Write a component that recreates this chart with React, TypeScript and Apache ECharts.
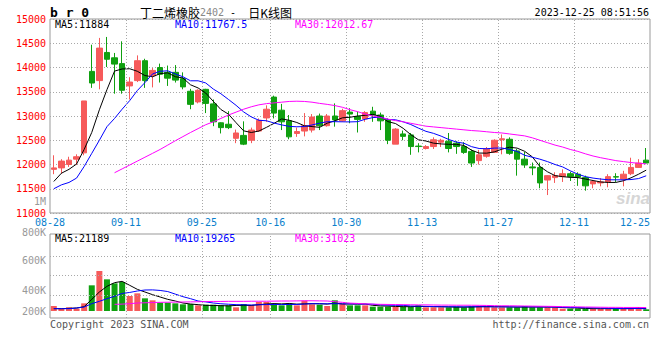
import React, { useEffect, useRef } from 'react';
import * as echarts from 'echarts';

const dates = ['08-28','08-29','08-30','08-31','09-01','09-04','09-05','09-06','09-07','09-08','09-11','09-12','09-13','09-14','09-15','09-18','09-19','09-20','09-21','09-22','09-25','09-26','09-27','09-28','10-09','10-10','10-11','10-12','10-13','10-16','10-17','10-18','10-19','10-20','10-23','10-24','10-25','10-26','10-27','10-30','10-31','11-01','11-02','11-03','11-06','11-07','11-08','11-09','11-10','11-13','11-14','11-15','11-16','11-17','11-20','11-21','11-22','11-23','11-24','11-27','11-28','11-29','11-30','12-01','12-04','12-05','12-06','12-07','12-08','12-11','12-12','12-13','12-14','12-15','12-18','12-19','12-20','12-21','12-22'];

const opens = [11900,11930,12000,12110,12240,13920,13730,14310,14200,14080, 13620,13730,14140,13830,14000,13900,13900,13770,13510,13290, 13550,13250,12860,12830,12540,12600,12500,12690,12960,13390, 13120,12900,12640,12690,12710,13000,12800,13000,12900,13080, 12990,12940,13100,13020,12920,12420,12630,12610,12380,12330, 12370,12460,12480,12440,12370,12270,12080,12170,12250,12510, 12520,12280,12110,11950,11940,11680,11730,11750,11810,11800, 11730,11600,11620,11640,11750,11700,11810,11940,12090];
const closes = [11930,12070,12090,12160,13310,13680,14400,14170,14070,13530, 13700,14140,13730,13940,13860,13780,13740,13600,13240,13530, 13260,12880,12760,12760,12650,12420,12710,12910,13140,13060, 12880,12570,12680,12800,12980,12800,13000,12920,13110,13040, 12930,13070,13020,12900,12500,12730,12580,12370,12370,12370, 12510,12500,12330,12370,12250,12030,12200,12320,12500,12530, 12230,12110,11990,11930,11620,11770,11770,11810,11750,11740, 11560,11650,11640,11750,11740,11800,11940,12030,12030];
const lows = [11800,11810,11950,11990,12190,13580,13550,14010,13460,13460, 13340,13700,13580,13590,13690,13620,13690,13550,13140,13260, 13060,12790,12640,12730,12440,12400,12440,12670,12880,12950, 12710,12520,12570,12580,12660,12710,12780,12780,12880,12850, 12660,12880,12880,12710,12420,12420,12500,12200,12250,12310, 12320,12360,12250,12220,12220,11950,12000,12140,12250,12210, 12200,11770,11930,11780,11510,11370,11620,11640,11660,11560, 11460,11510,11550,11530,11640,11550,11780,11930,12020];
const highs = [12190,12110,12160,12210,13310,14470,14610,14630,14300,14540, 13800,14250,14180,13990,14080,14040,14050,13900,13560,13550, 13560,13340,12870,13100,12720,12890,12760,12950,13220,13420, 13250,13020,12760,13060,13040,13050,13040,13260,13150,13160, 13090,13100,13190,13070,12950,12750,12700,12650,12440,12400, 12560,12530,12650,12480,12460,12310,12300,12360,12520,12620, 12560,12320,12260,12040,12040,11780,11840,11900,11850,11840, 11770,11680,11720,11800,11820,11870,12140,12110,12340];

const ma5 = [11650,11820,11900,12010,12312,12662,13128,13544,13926,13970, 13974,13922,13834,13808,13874,13890,13810,13784,13644,13578, 13474,13302,13134,13038,12862,12694,12660,12690,12766,12848, 12940,12912,12866,12798,12782,12766,12852,12900,12962,12974, 13000,13014,13034,12992,12884,12844,12746,12616,12510,12484, 12440,12424,12416,12416,12392,12296,12236,12234,12260,12316, 12356,12338,12272,12158,11960,11850,11770,11750,11735,11730, 11700,11670,11640,11630,11630,11665,11725,11800,11884];
const ma10 = [11500,11580,11630,11720,11960,12230,12500,12780,12950,13141, 13318,13525,13689,13867,13922,13932,13866,13809,13726,13726, 13682,13556,13459,13341,13220,13084,12981,12912,12902,12855, 12817,12786,12778,12782,12815,12853,12882,12883,12880,12878, 12883,12933,12967,12977,12929,12922,12880,12825,12751,12684, 12642,12585,12516,12463,12438,12368,12330,12325,12338,12340, 12310,12270,12190,12150,12110,12060,12000,11950,11870,11800, 11750,11720,11700,11685,11684,11684,11690,11710,11767.5];
const ma30 = [null,null,null,null,null,null,null,null,11830,11910, 11990,12070,12150,12230,12310,12400,12490,12575,12660,12740, 12820,12880,12950,13020,13080,13140,13190,13230,13255,13270, 13285,13300,13305,13300,13285,13260,13240,13215,13180,13130, 13090,13040,13000,12970,12935,12905,12880,12850,12820,12790, 12775,12760,12745,12730,12715,12700,12690,12675,12660,12650, 12630,12610,12590,12550,12500,12450,12400,12360,12310,12270, 12220,12175,12140,12110,12080,12060,12040,12025,12012.67];

const volumes = [45000,21000,33000,21000,69000,231000,360000,285000,249000,261000, 135000,159000,114000,96000,75000,75000,69000,60000,63000,51000, 57000,57000,51000,51000,33000,63000,54000,81000,81000,57000, 51000,69000,51000,93000,60000,57000,45000,96000,63000,51000, 51000,51000,39000,39000,39000,39000,39000,39000,51000,33000, 33000,33000,33000,39000,33000,42000,45000,39000,33000,33000, 33000,33000,45000,33000,33000,33000,33000,21000,21000,21000, 21000,21000,21000,21000,21000,21000,27000,36000,15000];
const volMa5 = [21000,21000,24000,27000,39000,105000,171000,222000,255000,267000, 231000,195000,171000,147000,126000,105000,90000,72000,63000,57000, 51000,50000,48000,46000,50000,51000,50000,57000,63000,67000, 64000,68000,62000,64000,66000,66000,62000,71000,64000,63000, 62000,63000,51000,46000,44000,41000,39000,39000,41000,40000, 39000,39000,37000,35000,35000,36000,39000,40000,39000,39000, 37000,35000,36000,36000,36000,36000,36000,31000,28000,26000, 23000,21000,21000,21000,21000,21000,22000,25000,21189];
const volMa10 = [21000,21000,21000,27000,36000,66000,87000,111000,132000,158000, 167000,180000,189000,190000,185000,175000,152000,129000,111000,90000, 82000,72000,65000,61000,57000,56000,54000,56000,58000,59000, 58000,59000,59000,63000,66000,65000,65000,66000,64000,64000, 64000,62000,61000,55000,53000,51000,51000,45000,44000,42000, 40000,38000,38000,38000,37000,38000,38000,38000,37000,37000, 37000,37000,38000,37000,37000,36000,35000,33000,32000,31000, 29000,28000,26000,24000,23000,22000,21000,23000,19265];
const volMa30 = [null,null,null,null,null,null,null,null,60000,62000, 66000,72000,74000,76000,78000,79000,80000,81000,82000,83000, 85000,86000,86000,87000,87000,87000,88000,88000,88000,89000, 90000,90000,91000,92000,92000,91000,90000,84000,78000,71000, 68000,64000,62000,60000,59000,58000,57000,56000,55000,55000, 54000,53000,53000,52000,52000,52000,51000,50000,48000,47000, 47000,46000,45000,44000,43000,42000,41000,39000,38000,37000, 36000,35000,34000,33000,33000,32000,32000,32000,31023];

const xTickLabels = ['08-28','09-11','09-25','10-16','10-30','11-13','11-27','12-11','12-25'];
const volTickLabels = ['800K','600K','400K','200K'];
const extraLabel = '1M';

const titleCode = 'b r 0';
const titleName = '丁二烯橡胶';
const titleContract = '2402';
const titleSuffix = '日K线图';
const timestamp = '2023-12-25 08:51:56';
const copyright = 'Copyright 2023 SINA.COM';
const site = 'http://finance.sina.com.cn';

const MONO = "'DejaVu Sans Mono', monospace";
const UP = '#f65a5a';
const DOWN = '#10a010';
const GRIDC = '#a8a8a8';

const tickIndex = xTickLabels.map((l) => {
  const i = dates.indexOf(l);
  return i < 0 ? dates.length : i;
});
const labelAt: Record<number, string> = {};
tickIndex.forEach((i, k) => { labelAt[i] = xTickLabels[k]; });
const innerTicks = tickIndex.filter((i) => i > 0 && i < dates.length);

const last = (a: (number | null)[]) => a[a.length - 1];

function buildOption() {
  const candles = dates.map((_, i) => [opens[i], closes[i], lows[i], highs[i]]);
  const volData = volumes.map((v, i) => ({
    value: v,
    itemStyle: { color: closes[i] >= opens[i] ? UP : DOWN },
  }));
  const dotted = { type: [1, 2] as any, color: GRIDC, width: 1 };
  const vLines = {
    silent: true,
    symbol: ['none', 'none'],
    label: { show: false },
    lineStyle: dotted,
    emphasis: { disabled: true },
    data: innerTicks.map((i) => ({ xAxis: i })),
  };
  const txt = (text: string, x: number, y: number, fill: string, align = 'left', extra: any = {}) => ({
    type: 'text',
    x,
    y,
    silent: true,
    style: { text, fill, fontSize: 10, lineHeight: 10, fontFamily: MONO, align, verticalAlign: 'middle', ...extra },
  });
  return {
    animation: false,
    backgroundColor: '#ffffff',
    grid: [
      { left: 50, right: 10, top: 19, height: 194, show: true, borderColor: '#999', borderWidth: 1 },
      { left: 50, right: 10, top: 234, height: 84, show: true, borderColor: '#999', borderWidth: 1 },
    ],
    xAxis: [
      { type: 'category', gridIndex: 0, data: dates, boundaryGap: true, show: false },
      {
        type: 'value', gridIndex: 0, min: 0, max: dates.length, interval: 1, position: 'bottom',
        axisLine: { show: false }, axisTick: { show: false }, splitLine: { show: false },
        axisLabel: {
          show: true, margin: 4, color: '#0a7fcc', fontSize: 10, lineHeight: 10, fontFamily: MONO,
          showMinLabel: true, showMaxLabel: true, alignMaxLabel: 'right',
          formatter: (v: number) => labelAt[v] ?? '',
        },
      },
      { type: 'category', gridIndex: 1, data: dates, boundaryGap: true, show: false },
      { type: 'value', gridIndex: 1, min: 0, max: dates.length, show: false },
    ],
    yAxis: [
      {
        type: 'value', gridIndex: 0, min: 11000, max: 15000, interval: 500,
        axisLine: { show: false }, axisTick: { show: false },
        axisLabel: { color: '#ff0000', fontSize: 10, lineHeight: 10, fontFamily: MONO, margin: 4, formatter: (v: number) => String(v) },
        splitLine: { show: true, lineStyle: dotted },
      },
      { type: 'value', gridIndex: 1, min: -63000, max: 693000, show: false, splitLine: { show: false } },
    ],
    series: [
      { type: 'line', xAxisIndex: 1, yAxisIndex: 0, data: [], z: 1, silent: true, markLine: vLines },
      {
        type: 'candlestick', xAxisIndex: 0, yAxisIndex: 0, data: candles, barWidth: 6, z: 3,
        itemStyle: { color: UP, color0: DOWN, borderColor: UP, borderColor0: DOWN, borderColorDoji: UP, borderWidth: 1 },
      },
      { type: 'line', xAxisIndex: 0, yAxisIndex: 0, data: ma5, symbol: 'none', z: 4, lineStyle: { color: '#000', width: 1 } },
      { type: 'line', xAxisIndex: 0, yAxisIndex: 0, data: ma10, symbol: 'none', z: 4, lineStyle: { color: '#0000ff', width: 1 } },
      { type: 'line', xAxisIndex: 0, yAxisIndex: 0, data: ma30, symbol: 'none', z: 4, lineStyle: { color: '#ff00ff', width: 1 } },
      { type: 'line', xAxisIndex: 3, yAxisIndex: 1, data: [], z: 1, silent: true, markLine: vLines },
      {
        type: 'bar', xAxisIndex: 2, yAxisIndex: 1, data: volData, barWidth: 6, z: 3,
        markLine: {
          silent: true, symbol: ['none', 'none'], label: { show: false }, lineStyle: dotted,
          data: [{ yAxis: 144000 }, { yAxis: 318000 }, { yAxis: 492000 }],
        },
      },
      { type: 'line', xAxisIndex: 2, yAxisIndex: 1, data: volMa5, symbol: 'none', z: 4, lineStyle: { color: '#000', width: 1 } },
      { type: 'line', xAxisIndex: 2, yAxisIndex: 1, data: volMa10, symbol: 'none', z: 4, lineStyle: { color: '#0000ff', width: 1 } },
      { type: 'line', xAxisIndex: 2, yAxisIndex: 1, data: volMa30, symbol: 'none', z: 4, lineStyle: { color: '#ff00ff', width: 1 } },
    ],
    graphic: [
      txt(titleCode, 50, 12, '#000', 'left', { fontSize: 13, lineHeight: 13, fontWeight: 'bold' }),
      {
        type: 'text', x: 140, y: 12, silent: true,
        style: {
          text: `{a|${titleName}}{b|${titleContract}}{c| -  }{a|${titleSuffix}}`,
          verticalAlign: 'middle', align: 'left',
          rich: {
            a: { fontSize: 12, fontFamily: "'Noto Sans CJK SC', sans-serif", fill: '#000' },
            b: { fontSize: 10, fontFamily: MONO, fill: '#888' },
            c: { fontSize: 10, fontFamily: MONO, fill: '#000' },
          },
        },
      },
      txt(timestamp, 649, 12, '#000', 'right'),
      txt(`MA5:${last(ma5)}`, 55, 24, '#000'),
      txt(`MA10:${last(ma10)}`, 175, 24, '#0000ff'),
      txt(`MA30:${last(ma30)}`, 295, 24, '#ff00ff'),
      txt(`MA5:${last(volMa5)}`, 55, 238.5, '#000'),
      txt(`MA10:${last(volMa10)}`, 175, 238.5, '#0000ff'),
      txt(`MA30:${last(volMa30)}`, 295, 238.5, '#ff00ff'),
      txt(extraLabel, 46, 201, '#999', 'right'),
      txt(volTickLabels[0], 46, 232, '#999', 'right'),
      txt(volTickLabels[1], 46, 260, '#999', 'right'),
      txt(volTickLabels[2], 46, 290.5, '#999', 'right'),
      txt(volTickLabels[3], 46, 311, '#999', 'right'),
      txt(copyright, 50, 324, '#555'),
      txt(site, 649, 324, '#555', 'right'),
      {
        type: 'text', x: 650, y: 198, silent: true,
        style: { text: 'sina', fill: '#d6d6d6', fontSize: 17, fontStyle: 'italic', fontWeight: 'bold', fontFamily: "'Liberation Sans', sans-serif", align: 'right', verticalAlign: 'middle' },
      },
    ],
  };
}

export default function App() {
  const ref = useRef<HTMLDivElement>(null);
  useEffect(() => {
    if (!ref.current) return;
    const chart = echarts.init(ref.current, null, { renderer: 'svg' });
    chart.setOption(buildOption() as any);
    return () => chart.dispose();
  }, []);
  return (
    <div
      ref={ref}
      style={{ position: 'fixed', left: 0, top: 0, width: 660, height: 360, background: '#fff' }}
    />
  );
}
